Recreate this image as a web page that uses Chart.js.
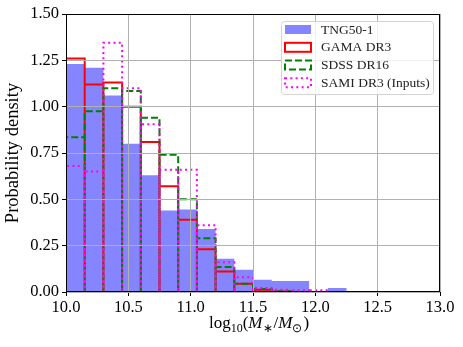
<!DOCTYPE html>
<html>
<head>
<meta charset="utf-8">
<script src="https://cdn.jsdelivr.net/npm/chart.js@4/dist/chart.umd.min.js"></script>
<style>
  html, body { margin: 0; padding: 0; background: #fff; }
  #chart { display: block; }
</style>
</head>
<body>
<canvas id="chart" width="463" height="347"></canvas>
<script>
// histogram bin edges (log10 stellar mass)
const binEdges = [10.0, 10.15, 10.3, 10.45, 10.6, 10.75, 10.9, 11.05, 11.2, 11.35, 11.5,
                  11.65, 11.8, 11.95, 12.1, 12.25, 12.4, 12.55, 12.7, 12.85, 13.0];

// probability density per bin
const tngValues  = [1.23, 1.21, 1.06, 0.80, 0.63, 0.44, 0.445, 0.34, 0.18, 0.12,
                    0.066, 0.06, 0.06, 0, 0.022, 0, 0, 0, 0, 0];
const gamaValues = [1.26, 1.12, 1.13, 1.00, 0.81, 0.57, 0.39, 0.23, 0.11, 0.045,
                    0.012, 0.003, 0, 0, 0, 0, 0, 0, 0, 0];
const sdssValues = [0.835, 0.975, 1.10, 1.085, 0.94, 0.74, 0.50, 0.29, 0.135, 0.045,
                    0.016, 0.004, 0, 0, 0, 0, 0, 0, 0, 0];
const samiValues = [0.68, 0.65, 1.345, 1.10, 0.905, 0.66, 0.66, 0.36, 0.16, 0.08,
                    0.022, 0.012, 0.01, 0.01, 0, 0, 0, 0, 0, 0];

const xTicks = [10.0, 10.5, 11.0, 11.5, 12.0, 12.5, 13.0];
const yTicks = [0.00, 0.25, 0.50, 0.75, 1.00, 1.25, 1.50];

const seriesNames = ["TNG50-1", "GAMA DR3", "SDSS DR16", "SAMI DR3 (Inputs)"];

const SERIF = "'Liberation Serif', 'Times New Roman', serif";

// every bin becomes a rectangle outline: up the left edge, across, down the right edge
function outline(values) {
  const pts = [];
  values.forEach((h, i) => {
    pts.push({ x: binEdges[i], y: 0 });
    pts.push({ x: binEdges[i], y: h });
    pts.push({ x: binEdges[i + 1], y: h });
    pts.push({ x: binEdges[i + 1], y: 0 });
  });
  return pts;
}

const lineBase = {
  pointRadius: 0,
  tension: 0,
  fill: false,
  borderWidth: 2,
  borderJoinStyle: "miter",
  borderCapStyle: "butt"
};

const frame = {
  id: "frame",
  afterDraw(chart) {
    const { ctx, chartArea: a } = chart;
    ctx.save();
    ctx.strokeStyle = "#000";
    ctx.lineWidth = 1;
    ctx.strokeRect(Math.round(a.left) + 0.5, Math.round(a.top) + 0.5,
                   Math.round(a.right - a.left) - 1, Math.round(a.bottom - a.top) - 1);
    ctx.restore();
  }
};

const legendBox = {
  id: "legendBox",
  afterDraw(chart) {
    const ctx = chart.ctx;
    const x0 = 281, y0 = 21, w = 152, h = 73;
    ctx.save();
    ctx.beginPath();
    ctx.roundRect(x0 + 0.5, y0 + 0.5, w, h, 3);
    ctx.fillStyle = "rgba(255,255,255,0.8)";
    ctx.fill();
    ctx.strokeStyle = "#d4d4d4";
    ctx.lineWidth = 1;
    ctx.stroke();

    const rows = [29.5, 47.3, 65, 82.7];
    const px = 285, pw = 26, ph = 9;
    chart.data.datasets.forEach((ds, i) => {
      const cy = rows[i];
      ctx.setLineDash([]);
      if (i === 0) {
        ctx.fillStyle = ds.backgroundColor;
        ctx.fillRect(px, cy - ph / 2, pw, ph);
      } else {
        ctx.strokeStyle = ds.borderColor;
        ctx.lineWidth = 2;
        ctx.setLineDash(ds.borderDash || []);
        ctx.strokeRect(px, cy - ph / 2, pw, ph);
      }
      ctx.setLineDash([]);
      ctx.fillStyle = "#222";
      ctx.font = "13.5px " + SERIF;
      ctx.textBaseline = "middle";
      ctx.textAlign = "left";
      ctx.fillText(ds.label, 321, cy + 0.5);
    });
    ctx.restore();
  }
};

// axis titles, with the mass ratio set like the LaTeX label
const axisTitles = {
  id: "axisTitles",
  afterDraw(chart) {
    const { ctx, chartArea: a } = chart;
    ctx.save();
    ctx.fillStyle = "#000";
    ctx.textBaseline = "alphabetic";

    const big = 17, small = 12;
    const parts = [
      { t: "log", size: big },
      { t: "10", size: small, dy: 4 },
      { t: "(", size: big },
      { t: "M", size: big, italic: true },
      { t: "\u2217", size: small, dy: 4, pad: 1 },
      { t: "/", size: big },
      { t: "M", size: big, italic: true },
      { t: "\u2299", size: small, dy: 4, pad: 1 },
      { t: ")", size: big }
    ];
    const fontOf = p => (p.italic ? "italic " : "") + p.size + "px " + SERIF;
    let total = 0;
    parts.forEach(p => {
      ctx.font = fontOf(p);
      p.w = ctx.measureText(p.t).width + (p.pad || 0);
      total += p.w;
    });
    let x = (a.left + a.right) / 2 + 6 - total / 2;
    const base = 328;
    parts.forEach(p => {
      ctx.font = fontOf(p);
      ctx.textAlign = "left";
      ctx.fillText(p.t, x, base + (p.dy || 0));
      x += p.w;
    });

    ctx.translate(18, (a.top + a.bottom) / 2);
    ctx.rotate(-Math.PI / 2);
    ctx.font = "18.5px " + SERIF;
    ctx.textAlign = "center";
    ctx.fillText("Probability density", 0, 0);
    ctx.restore();
  }
};

new Chart(document.getElementById("chart"), {
  type: "line",
  data: {
    datasets: [
      {
        ...lineBase,
        label: seriesNames[0],
        data: outline(tngValues),
        borderWidth: 0,
        borderColor: "rgba(0,0,255,0)",
        backgroundColor: "rgba(0,0,255,0.48)",
        fill: "origin",
        order: 4
      },
      {
        ...lineBase,
        label: seriesNames[1],
        data: outline(gamaValues),
        borderColor: "#ff0000",
        order: 3
      },
      {
        ...lineBase,
        label: seriesNames[2],
        data: outline(sdssValues),
        borderColor: "#008000",
        borderDash: [7, 3],
        order: 2
      },
      {
        ...lineBase,
        label: seriesNames[3],
        data: outline(samiValues),
        borderColor: "#ff00ff",
        borderDash: [2, 3.3],
        order: 1
      }
    ]
  },
  options: {
    responsive: false,
    devicePixelRatio: 1,
    animation: false,
    layout: { padding: { left: 0, right: 23, top: 14, bottom: 0 } },
    plugins: {
      legend: { display: false },
      tooltip: { enabled: false }
    },
    scales: {
      x: {
        type: "linear",
        min: 10,
        max: 13,
        afterFit: s => { s.height = 55; },
        afterBuildTicks: s => { s.ticks = xTicks.map(v => ({ value: v })); },
        grid: { color: "#b0b0b0", lineWidth: 1, tickLength: 4, tickColor: "#000", z: 1 },
        border: { display: true, color: "#000", width: 1, z: 1 },
        ticks: {
          padding: 2,
          color: "#000",
          maxRotation: 0,
          font: { family: SERIF, size: 16.5 },
          callback: v => v.toFixed(1)
        }
      },
      y: {
        type: "linear",
        min: 0,
        max: 1.5,
        afterFit: s => { s.width = 66; },
        afterBuildTicks: s => { s.ticks = yTicks.map(v => ({ value: v })); },
        grid: { color: "#b0b0b0", lineWidth: 1, tickLength: 4, tickColor: "#000", z: 1 },
        border: { display: true, color: "#000", width: 1, z: 1 },
        ticks: {
          padding: 3,
          color: "#000",
          font: { family: SERIF, size: 16.5 },
          callback: v => v.toFixed(2)
        }
      }
    }
  },
  plugins: [frame, legendBox, axisTitles]
});
</script>
</body>
</html>
